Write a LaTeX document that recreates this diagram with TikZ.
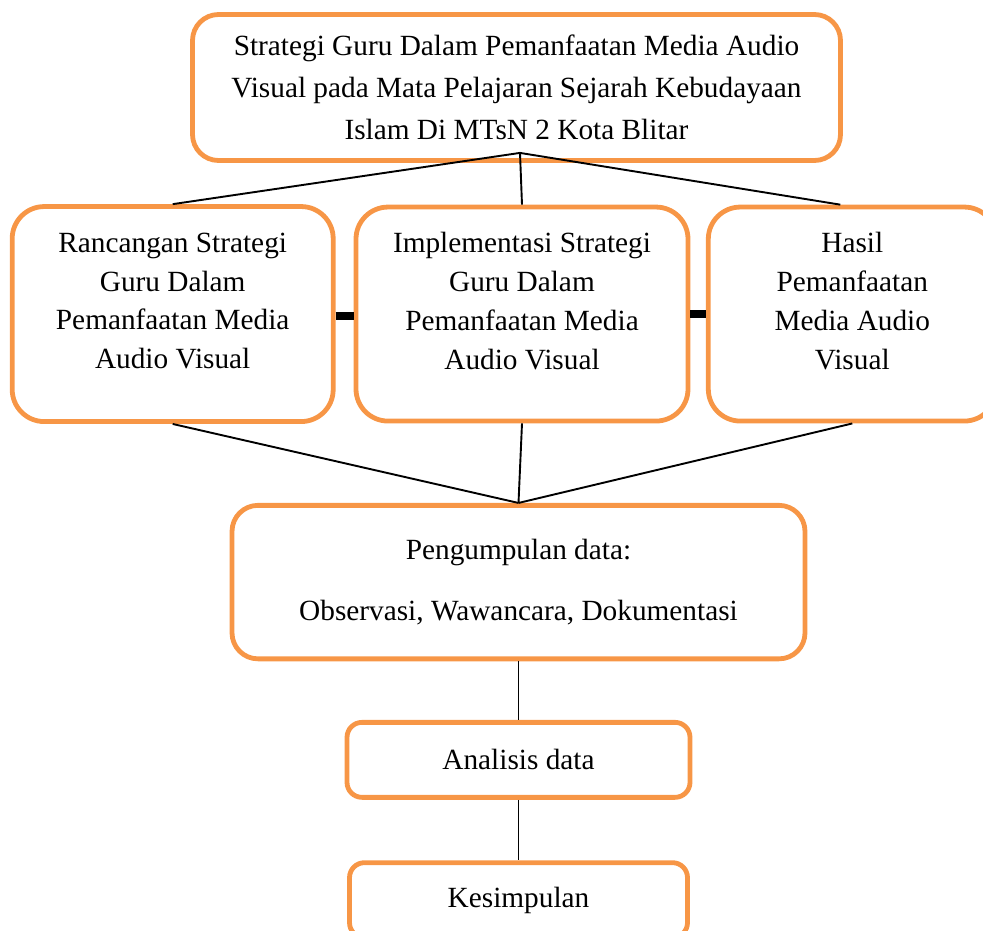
\documentclass[tikz,border=0pt]{standalone}
\usepackage{fontspec}
\setmainfont{Liberation Serif}
\usepackage{tikz}
\usetikzlibrary{positioning}

\definecolor{oranye}{RGB}{247,150,70}

\begin{document}
\begin{tikzpicture}
  [x=1pt, y=1pt,
   every node/.style={rectangle, draw=oranye, line width=4.8pt, align=center,
     font=\fontsize{29.3}{38.7}\selectfont},
   garis/.style={black, line width=1.9pt},
   sambung/.style={black, line width=7.5pt}]
  \useasboundingbox (0,0) rectangle (983,-930);
  \node (judul) [minimum width=648pt, minimum height=146pt, rounded corners=26pt,
    font=\fontsize{29.3}{42}\selectfont] at (516.5,-87.5)
    {Strategi Guru Dalam Pemanfaatan Media Audio \\ Visual pada Mata Pelajaran Sejarah Kebudayaan \\ Islam Di MTsN 2 Kota Blitar};
  \node (implementasi) [below=41.75pt of judul, xshift=5.5pt, minimum width=332pt, minimum height=214pt, rounded corners=32pt]
    {Implementasi Strategi \\ Guru Dalam \\ Pemanfaatan Media \\ Audio Visual \\[-12.3pt] \mbox{}};
  \node (rancangan) [left=18pt of implementasi, minimum width=321pt, minimum height=215pt, rounded corners=32pt]
    {Rancangan Strategi \\ Guru Dalam \\ Pemanfaatan Media \\ Audio Visual \\[-12.3pt] \mbox{}};
  \node (hasil) [right=15.5pt of implementasi, minimum width=288pt, minimum height=214pt, rounded corners=32pt]
    {Hasil \\ Pemanfaatan \\ Media Audio \\ Visual \\[-12.3pt] \mbox{}};
  \node (pengumpulan) [below=79.5pt of implementasi, xshift=-3.5pt, minimum width=573pt, minimum height=153.5pt, rounded corners=26pt]
    {Pengumpulan data: \\[22pt] Observasi, Wawancara, Dokumentasi};
  \node (analisis) [below=58.7pt of pengumpulan, minimum width=343pt, minimum height=75pt, rounded corners=15pt]
    {Analisis data};
  \node (kesimpulan) [below=60.5pt of analisis, minimum width=338pt, minimum height=75pt, rounded corners=15pt]
    {Kesimpulan};

  \coordinate (atas) at ([xshift=3.5pt, yshift=10pt]judul.south);

  \draw[garis] (atas) -- (rancangan.north);
  \draw[garis] (atas) -- (implementasi.north);
  \draw[garis] (atas) -- ([xshift=-12pt]hasil.north);
  \draw[garis] (rancangan.south) -- (pengumpulan.north);
  \draw[garis] (implementasi.south) -- (pengumpulan.north);
  \draw[garis] (hasil.south) -- (pengumpulan.north);
  \draw[garis] (pengumpulan) -- (analisis);
  \draw[garis] (analisis) -- (kesimpulan);
  \draw[sambung] ([yshift=-2pt]rancangan.east) -- ([yshift=-2pt]implementasi.west);
  \draw[sambung] (implementasi.east) -- (hasil.west);
\end{tikzpicture}
\end{document}
